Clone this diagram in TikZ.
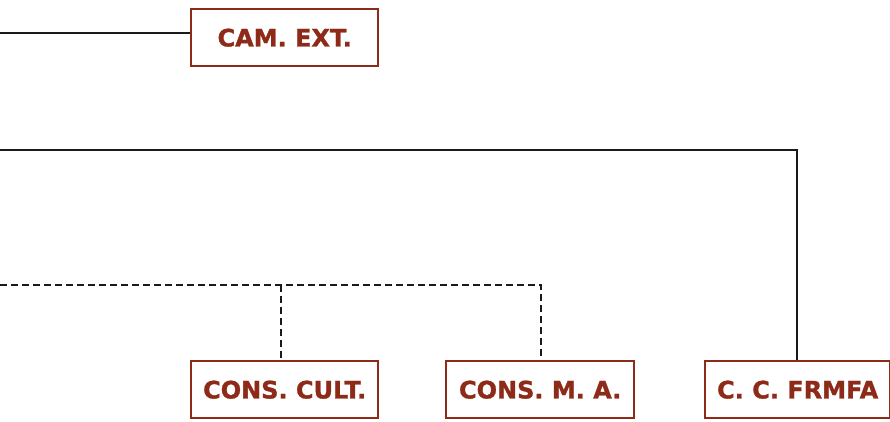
\documentclass[tikz,border=0pt]{standalone}
\usepackage{fontspec}
\setmainfont{DejaVu Sans}
\newfontfamily\boxfont[FakeBold=1.2]{DejaVu Sans Bold}
\definecolor{boxred}{HTML}{8E2A18}
\definecolor{lineblk}{HTML}{1A1A1A}
\begin{document}
\begin{tikzpicture}[x=1pt,y=-1pt,
  orgbox/.style={draw=boxred,line width=2.4pt,fill=white,minimum height=57pt,inner sep=0pt,
     text=boxred,font=\fontsize{24}{28}\boxfont,anchor=north west},
  conn/.style={draw=lineblk,line width=2.4pt},
  dconn/.style={conn,dash pattern=on 7pt off 4pt}]
\useasboundingbox (0,0) rectangle (890,422);
\node[orgbox,minimum width=187pt] (cam) at (190,8) {CAM. EXT.};
\node[orgbox,minimum width=187pt] (cult) at (190,360) {CONS. CULT.};
\node[orgbox,minimum width=188pt] (ma) at (445,360) {CONS. M. A.};
\node[orgbox,minimum width=185pt] (cc) at (704,360) {C. C. FRMFA};
\coordinate (l1) at (0,33);
\coordinate (l2) at (0,150);
\coordinate (l3) at (0,285);
\coordinate (j1) at (281,285);
\coordinate (j2) at (541,285);
\draw[conn] (l1) -- (cam.west |- l1);
\draw[conn] (l2) -- (797,150) -- (797,360);
\draw[dconn] (l3) -- (j2) -- (j2 |- ma.north);
\draw[dconn] (j1) -- (j1 |- cult.north);
\end{tikzpicture}
\end{document}
